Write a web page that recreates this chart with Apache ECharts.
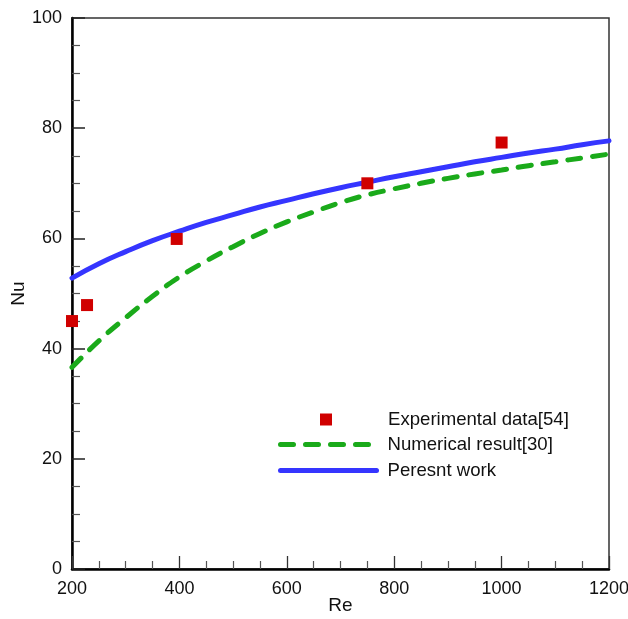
<!DOCTYPE html>
<html>
<head>
<meta charset="utf-8">
<script src="https://cdn.jsdelivr.net/npm/echarts@6/dist/echarts.min.js"></script>
<style>
html,body{margin:0;padding:0;background:#fff;}
#c{width:628px;height:619px;}
</style>
</head>
<body>
<div id="c"></div>
<script>
// Data
var reLine = [200,250,300,350,400,450,500,550,600,650,700,750,800,850,900,950,1000,1050,1100,1150,1200];
var nuPresent = [52.8,55.4,57.6,59.6,61.3,62.9,64.3,65.7,66.9,68.1,69.2,70.2,71.2,72.1,73.0,73.9,74.7,75.5,76.2,77.0,77.7];
var nuNumerical = [36.6,41.4,45.6,49.5,53.0,55.9,58.5,60.9,63.0,64.8,66.5,67.9,69.0,70.0,70.9,71.7,72.4,73.2,73.9,74.6,75.3];
var reExp = [200,228,395,750,1000];
var nuExp = [45.0,47.9,59.9,70.0,77.4];
var xTicks = [200,400,600,800,1000,1200];
var yTicks = [0,20,40,60,80,100];
var seriesNames = ['Experimental data[54]','Numerical result[30]','Peresnt work'];

function pairs(xs, ys){ return xs.map(function(x,i){ return [x, ys[i]]; }); }

var font = 'Liberation Sans, Arial, Helvetica, sans-serif';
var legendText = {fontFamily:font, fontSize:18.6, color:'#111'};
var chart = echarts.init(document.getElementById('c'), null, {renderer:'canvas'});
chart.setOption({
  animation:false,
  backgroundColor:'#fff',
  grid:{left:72, top:18, right:19, bottom:50, containLabel:false, outerBoundsMode:'none',
        show:true, borderColor:'#333', borderWidth:1.5, backgroundColor:'transparent'},
  legend:[
    {
      left:320, top:410, padding:0, itemWidth:12, itemHeight:12, selectedMode:false,
      data:[{name:seriesNames[0], icon:'rect'}],
      textStyle:Object.assign({padding:[0,0,0,51]}, legendText)
    },
    {
      left:278, top:435, padding:0, itemWidth:96, itemHeight:20, selectedMode:false,
      data:[seriesNames[1]],
      itemStyle:{color:'rgba(0,0,0,0)', borderWidth:0, opacity:0},
      lineStyle:{width:5},
      textStyle:Object.assign({padding:[0,0,0,6]}, legendText)
    },
    {
      left:278, top:461, padding:0, itemWidth:96, itemHeight:20, selectedMode:false,
      data:[seriesNames[2]],
      itemStyle:{color:'rgba(0,0,0,0)', borderWidth:0, opacity:0},
      lineStyle:{width:5},
      textStyle:Object.assign({padding:[0,0,0,6]}, legendText)
    }
  ],
  xAxis:{
    type:'value', min:xTicks[0], max:xTicks[xTicks.length-1], interval:200,
    name:'Re', nameLocation:'middle', nameGap:27, nameMoveOverlap:false,
    nameTextStyle:{fontFamily:font, fontSize:19, color:'#111'},
    axisLine:{show:true, onZero:false, lineStyle:{color:'#000', width:2.5}},
    axisTick:{show:true, inside:true, length:13, lineStyle:{color:'#333', width:1.3}},
    minorTick:{show:true, splitNumber:4, length:8, lineStyle:{color:'#555', width:1.2}},
    axisLabel:{fontFamily:font, fontSize:18, color:'#111', margin:11, formatter:function(v){return String(v);}},
    splitLine:{show:false}
  },
  yAxis:{
    type:'value', min:yTicks[0], max:yTicks[yTicks.length-1], interval:20,
    name:'Nu', nameLocation:'middle', nameGap:44, nameRotate:90, nameMoveOverlap:false,
    nameTextStyle:{fontFamily:font, fontSize:19, color:'#111'},
    axisLine:{show:true, onZero:false, lineStyle:{color:'#000', width:2.5}},
    axisTick:{show:true, inside:true, length:13, lineStyle:{color:'#222', width:1.5}},
    minorTick:{show:true, splitNumber:4, length:8, lineStyle:{color:'#555', width:1.2}},
    axisLabel:{fontFamily:font, fontSize:18, color:'#111', margin:10, formatter:function(v){return String(v);}},
    splitLine:{show:false}
  },
  series:[
    {
      name:seriesNames[1], type:'line', data:pairs(reLine, nuNumerical), smooth:true,
      symbol:'none', z:2,
      lineStyle:{color:'#1aaa1a', width:5, type:[13,12], cap:'round'},
      itemStyle:{color:'#1aaa1a'}
    },
    {
      name:seriesNames[2], type:'line', data:pairs(reLine, nuPresent), smooth:true,
      symbol:'none', z:3,
      lineStyle:{color:'#3535ff', width:5, cap:'round'},
      itemStyle:{color:'#3535ff'}
    },
    {
      name:seriesNames[0], type:'scatter', data:pairs(reExp, nuExp),
      symbol:'rect', symbolSize:12, z:4,
      itemStyle:{color:'#d00000', opacity:1}
    }
  ]
});
</script>
</body>
</html>
